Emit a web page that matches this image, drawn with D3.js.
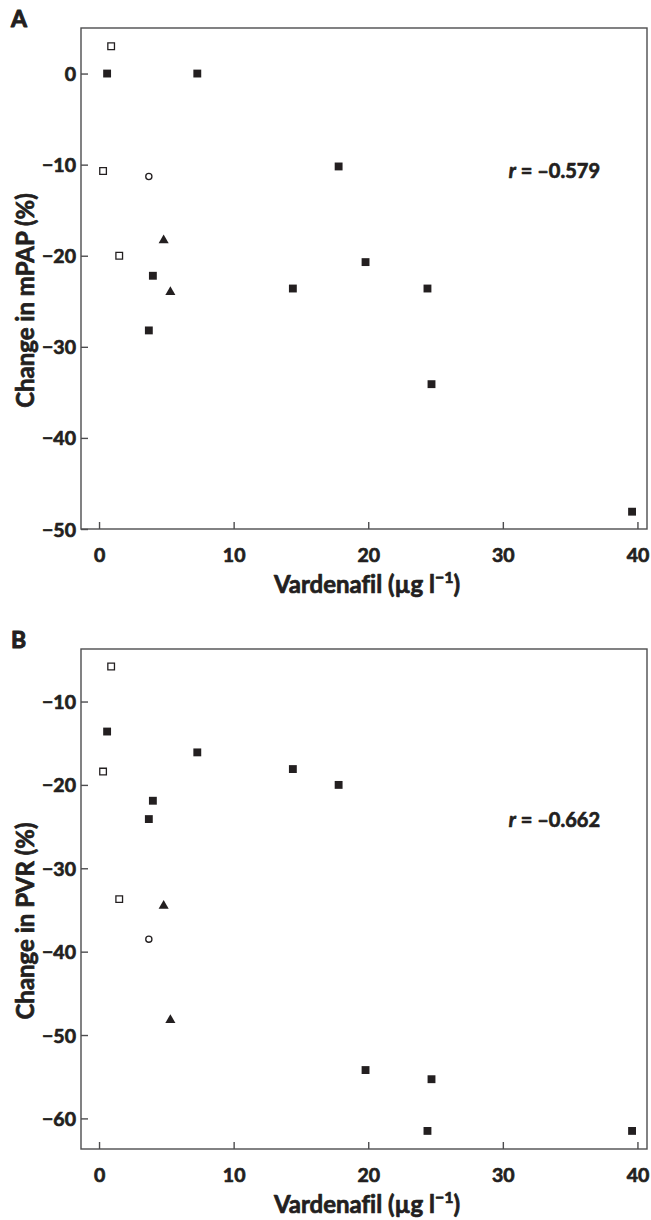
<!DOCTYPE html>
<html>
<head>
<meta charset="utf-8">
<script src="https://cdn.jsdelivr.net/npm/d3@7"></script>
<style>
  html, body { margin: 0; padding: 0; background: #fff; }
  svg text { font-family: Lato, "Open Sans", sans-serif; font-weight: bold; fill: #231f20;
             stroke: #231f20; stroke-width: 0.7px; stroke-linejoin: round; font-variant-ligatures: none; }
</style>
</head>
<body>
<svg id="chart" width="651" height="1220"></svg>
<script>
// ---- Data ----
// Vardenafil plasma concentration (µg l-1) per patient group
const xFilledSq = [0.6, 3.7, 4.0, 7.3, 14.4, 17.8, 19.8, 24.4, 24.7, 39.6];
const mpapFilledSq = [0, -28.2, -22.2, 0, -23.6, -10.2, -20.7, -23.6, -34.1, -48.1];
const pvrFilledSq = [-13.6, -24.1, -21.9, -16.1, -18.1, -20.0, -54.2, -61.5, -55.3, -61.5];

const xOpenSq = [0.3, 0.9, 1.5];
const mpapOpenSq = [-10.7, 3.0, -20.0];
const pvrOpenSq = [-18.4, -5.8, -33.7];

const xOpenCircle = [3.7];
const mpapOpenCircle = [-11.3];
const pvrOpenCircle = [-38.5];

const xTriangle = [4.8, 5.3];
const mpapTriangle = [-18.3, -24.0];
const pvrTriangle = [-34.5, -48.2];

const xTicks = [0, 10, 20, 30, 40];
const yTicksA = [0, -10, -20, -30, -40, -50];
const yTicksB = [-10, -20, -30, -40, -50, -60];

const panelLabels = ["A", "B"];
const yTitles = ["Change in mPAP (%)", "Change in PVR (%)"];
const rTexts = ["–0.579", "–0.662"];

// ---- Drawing ----
const svg = d3.select("#chart");
const ink = "#231f20";
const frameColor = "#4d4d4f";

const panels = [
  { top: 28, bottom: 529, yDomain: [-50, 5], yTicks: yTicksA, key: "mpap", rY: 178 },
  { top: 649, bottom: 1149, yDomain: [-63.67, -3.7], yTicks: yTicksB, key: "pvr", rY: 827 }
];
const left = 81, right = 647;

const groups = [
  { xs: xFilledSq, mpap: mpapFilledSq, pvr: pvrFilledSq, type: d3.symbolSquare, size: 62, fill: ink, stroke: "none" },
  { xs: xOpenSq, mpap: mpapOpenSq, pvr: pvrOpenSq, type: d3.symbolSquare, size: 44, fill: "#fff", stroke: ink },
  { xs: xOpenCircle, mpap: mpapOpenCircle, pvr: pvrOpenCircle, type: d3.symbolCircle, size: 30, fill: "#fff", stroke: ink },
  { xs: xTriangle, mpap: mpapTriangle, pvr: pvrTriangle, type: d3.symbolTriangle, size: 44, fill: ink, stroke: "none" }
];

const fmt = d => (d < 0 ? "−" + Math.abs(d) : String(d));

panels.forEach((p, i) => {
  const x = d3.scaleLinear().domain([-1.34, 40.71]).range([left, right]);
  const y = d3.scaleLinear().domain(p.yDomain).range([p.bottom, p.top]);
  const g = svg.append("g");

  // frame
  g.append("rect")
    .attr("x", left).attr("y", p.top)
    .attr("width", right - left).attr("height", p.bottom - p.top)
    .attr("fill", "none").attr("stroke", frameColor).attr("stroke-width", 1.4);

  // x axis (ticks inward)
  const xAxis = g.append("g")
    .attr("transform", `translate(0,${p.bottom})`)
    .call(d3.axisBottom(x).tickValues(xTicks).tickSizeInner(-7).tickSizeOuter(0).tickPadding(0).tickFormat(fmt));
  xAxis.select(".domain").remove();
  xAxis.selectAll(".tick line").attr("stroke", frameColor).attr("stroke-width", 1.4);
  xAxis.selectAll(".tick text")
    .attr("y", 33).attr("dy", 0)
    .style("font-size", "19.5px").attr("fill", ink);

  // y axis (ticks inward)
  const yAxis = g.append("g")
    .attr("transform", `translate(${left},0)`)
    .call(d3.axisLeft(y).tickValues(p.yTicks).tickSizeInner(-7).tickSizeOuter(0).tickPadding(0).tickFormat(fmt));
  yAxis.select(".domain").remove();
  yAxis.selectAll(".tick line").attr("stroke", frameColor).attr("stroke-width", 1.4);
  yAxis.selectAll(".tick text")
    .attr("x", -5).attr("dy", "0.36em")
    .style("font-size", "19.5px").attr("fill", ink);

  // panel label
  g.append("text")
    .attr("x", 11).attr("y", p.top - 1)
    .style("font-size", "23px")
    .style("stroke-width", "1px")
    .text(panelLabels[i]);

  // y title
  g.append("text")
    .attr("transform", `translate(34,${(p.top + p.bottom) / 2 + 22}) rotate(-90)`)
    .attr("text-anchor", "middle")
    .style("font-size", "24px")
    .text(yTitles[i]);

  // x title
  const xt = g.append("text")
    .attr("x", (left + right) / 2 + 3).attr("y", p.bottom + 64)
    .attr("text-anchor", "middle")
    .style("font-size", "24px");
  xt.append("tspan").text("Vardenafil (µg l");
  xt.append("tspan").attr("dy", -10).style("font-size", "16px").text("−1");
  xt.append("tspan").attr("dy", 10).text(")");

  // r annotation
  const rt = g.append("text")
    .attr("x", 600).attr("y", p.rY)
    .attr("text-anchor", "end")
    .style("font-size", "20px");
  rt.append("tspan").style("font-style", "italic").text("r");
  rt.append("tspan").text(" = " + rTexts[i]);

  // points
  groups.forEach(gr => {
    const vals = gr[p.key];
    g.selectAll(null)
      .data(gr.xs.map((v, k) => [v, vals[k]]))
      .enter().append("path")
      .attr("d", d3.symbol().type(gr.type).size(gr.size))
      .attr("transform", d => `translate(${x(d[0])},${y(d[1])})`)
      .attr("fill", gr.fill)
      .attr("stroke", gr.stroke)
      .attr("stroke-width", 1.3);
  });
});
</script>
</body>
</html>
